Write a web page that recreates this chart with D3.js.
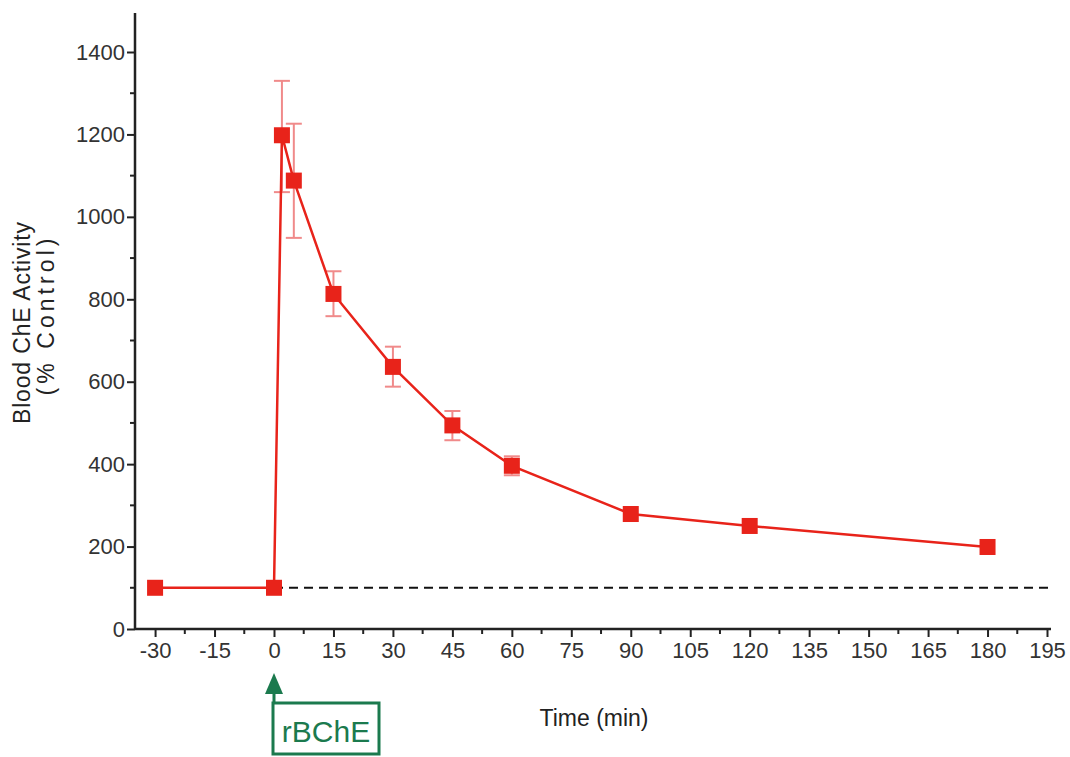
<!DOCTYPE html>
<html>
  <head>
    <meta charset="utf-8">
    <style>
     body{ margin:0; background:#fff; }
     text{ font-family: "Liberation Sans", Arial, sans-serif; }
    </style>
    <script src="https://d3js.org/d3.v7.min.js"></script>
    <title>Blood ChE Activity</title>
  </head>
  <body>
    <script>
    // data
    const times = [-30, 0, 2, 5, 15, 30, 45, 60, 90, 120, 180];
    const activity = [100, 100, 1198, 1088, 813, 636, 494, 396, 279, 250, 199];
    const errLow = [null, null, 1060, 949, 759, 588, 458, 373, null, null, null];
    const errHigh = [null, null, 1330, 1226, 868, 685, 529, 419, null, null, null];
    const xTicks = [-30, -15, 0, 15, 30, 45, 60, 75, 90, 105, 120, 135, 150, 165, 180, 195];
    const yTicks = [0, 200, 400, 600, 800, 1000, 1200, 1400];
    const baseline = 100;

    const w = 1070, h = 757;
    const svg = d3.select("body").append("svg").attr("width", w).attr("height", h);

    const x = d3.scaleLinear().domain([0, 195]).range([274, 1047]);
    const y = d3.scaleLinear().domain([0, 1400]).range([629, 52]);
    const axX = 135, axY = 629;
    const fmt = d => String(d).replace("\u2212", "-");

    // dashed control line
    svg.append("line")
       .attr("x1", x(0)).attr("x2", 1050)
       .attr("y1", y(baseline)).attr("y2", y(baseline))
       .attr("stroke", "#111").attr("stroke-width", 2)
       .attr("stroke-dasharray", "9,6");

    // y axis
    const yAxis = d3.axisLeft(y).tickValues(yTicks).tickFormat(fmt).tickSize(8).tickPadding(2);
    const gy = svg.append("g").attr("transform", "translate(" + axX + ",0)").call(yAxis);
    gy.select(".domain").remove();
    gy.append("line").attr("x1", 0).attr("x2", 0).attr("y1", 13).attr("y2", axY)
      .attr("stroke", "#222").attr("stroke-width", 2.5);
    gy.selectAll(".tick line").attr("stroke", "#222").attr("stroke-width", 2);
    gy.selectAll(".tick text").attr("font-size", 22).attr("fill", "#333")
      .attr("font-family", "Liberation Sans, Arial, sans-serif");
    gy.selectAll(".minor").data(d3.range(100, 1500, 200)).enter().append("line")
      .attr("x1", -5).attr("x2", 0).attr("y1", d => y(d)).attr("y2", d => y(d))
      .attr("stroke", "#222").attr("stroke-width", 2);

    // x axis
    const xAxis = d3.axisBottom(x).tickValues(xTicks).tickFormat(fmt).tickSize(8).tickPadding(5);
    const gx = svg.append("g").attr("transform", "translate(0," + axY + ")").call(xAxis);
    gx.select(".domain").remove();
    gx.append("line").attr("x1", axX).attr("x2", 1051).attr("y1", 0).attr("y2", 0)
      .attr("stroke", "#222").attr("stroke-width", 2.5);
    gx.selectAll(".tick line").attr("stroke", "#222").attr("stroke-width", 2);
    gx.selectAll(".tick text").attr("font-size", 22).attr("fill", "#333")
      .attr("font-family", "Liberation Sans, Arial, sans-serif");
    gx.selectAll(".minor").data(d3.range(-22.5, 195, 15)).enter().append("line")
      .attr("x1", d => x(d)).attr("x2", d => x(d)).attr("y1", 0).attr("y2", 5)
      .attr("stroke", "#222").attr("stroke-width", 2);

    // axis titles
    svg.append("text").attr("transform", "translate(30,323) rotate(-90)")
       .attr("text-anchor", "middle").attr("font-size", 23).attr("fill", "#222")
       .attr("textLength", 202).text("Blood ChE Activity");
    svg.append("text").attr("transform", "translate(54,317) rotate(-90)")
       .attr("text-anchor", "middle").attr("font-size", 23).attr("fill", "#222")
       .attr("textLength", 157).text("(% Control)");
    svg.append("text").attr("x", 594).attr("y", 726)
       .attr("text-anchor", "middle").attr("font-size", 23).attr("fill", "#222")
       .text("Time (min)");

    // error bars
    const errs = times.map((t, i) => ({t: t, lo: errLow[i], hi: errHigh[i]})).filter(d => d.lo !== null);
    const eg = svg.append("g").attr("stroke", "#f08a8a").attr("stroke-width", 2);
    eg.selectAll(".ev").data(errs).enter().append("line")
      .attr("x1", d => x(d.t)).attr("x2", d => x(d.t))
      .attr("y1", d => y(d.lo)).attr("y2", d => y(d.hi));
    eg.selectAll(".eh").data(errs).enter().append("line")
      .attr("x1", d => x(d.t) - 8).attr("x2", d => x(d.t) + 8)
      .attr("y1", d => y(d.hi)).attr("y2", d => y(d.hi));
    eg.selectAll(".el").data(errs).enter().append("line")
      .attr("x1", d => x(d.t) - 8).attr("x2", d => x(d.t) + 8)
      .attr("y1", d => y(d.lo)).attr("y2", d => y(d.lo));

    // line and markers
    const pts = times.map((t, i) => [t, activity[i]]);
    svg.append("path").datum(pts)
       .attr("d", d3.line().x(d => x(d[0])).y(d => y(d[1])))
       .attr("fill", "none").attr("stroke", "#e8231a").attr("stroke-width", 2.5);
    svg.selectAll(".pt").data(pts).enter().append("rect")
       .attr("x", d => x(d[0]) - 8).attr("y", d => y(d[1]) - 8)
       .attr("width", 16).attr("height", 16).attr("fill", "#e8231a");

    // rBChE annotation
    const green = "#1b7a4e";
    const ax0 = x(0);
    svg.append("path").attr("d", "M" + (ax0 - 9) + ",694 L" + ax0 + ",673 L" + (ax0 + 9) + ",694 Z").attr("fill", green);
    svg.append("line").attr("x1", ax0).attr("x2", ax0).attr("y1", 690).attr("y2", 703)
       .attr("stroke", green).attr("stroke-width", 3);
    svg.append("rect").attr("x", ax0 - 1).attr("y", 703).attr("width", 106).attr("height", 51)
       .attr("fill", "none").attr("stroke", green).attr("stroke-width", 3);
    svg.append("text").attr("x", ax0 + 52).attr("y", 742).attr("text-anchor", "middle")
       .attr("font-size", 30).attr("fill", green).text("rBChE");
    </script>
  </body>
</html>
